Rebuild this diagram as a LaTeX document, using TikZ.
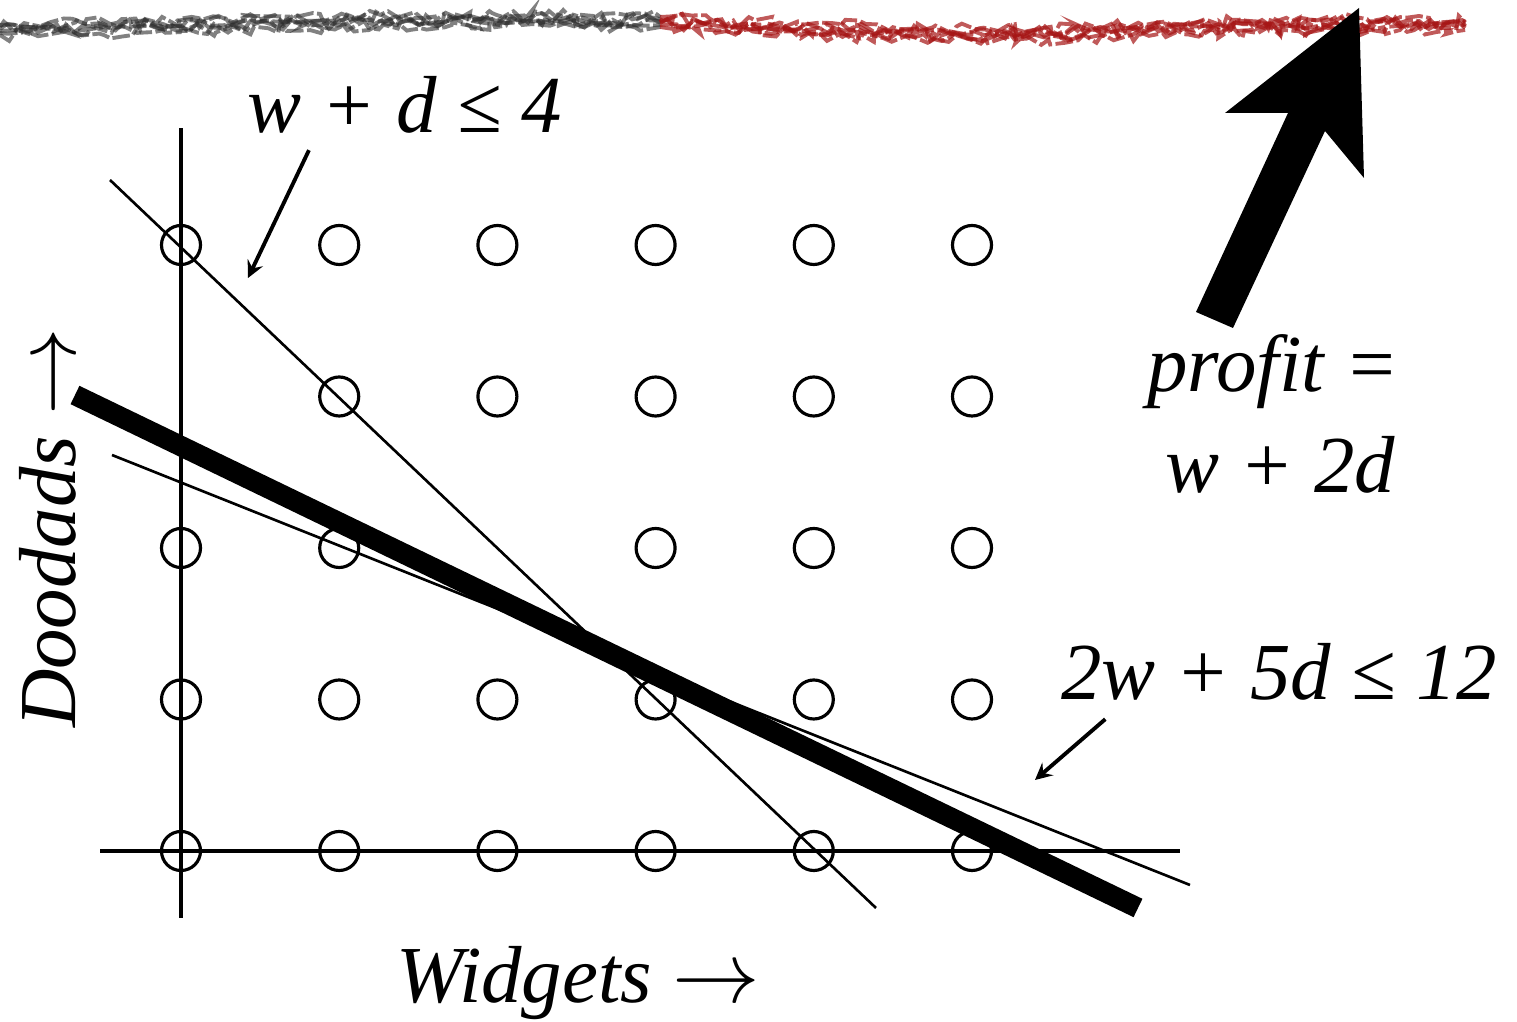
\documentclass[tikz,border=0pt]{standalone}
\usepackage{fontspec}
\setmainfont{Liberation Serif}
\usetikzlibrary{positioning,calc,arrows,decorations.pathmorphing}
\definecolor{chalkred}{RGB}{165,20,20}
\definecolor{chalkgray}{RGB}{45,45,45}

\begin{document}
\begin{tikzpicture}[x=0.01cm, y=-0.01cm,
    dot/.style={draw, circle, line width=0.9pt, minimum size=0.39cm, inner sep=0pt},
    axis/.style={line width=0.9pt},
    bound/.style={line width=0.75pt},
    lbl/.style={font=\fontsize{23}{27}\selectfont\itshape, inner sep=0pt},
    ptr/.style={-stealth, line width=1.1pt},
    chalk/.style={line width=1.1pt, decorate, decoration={random steps, segment length=2.5pt, amplitude=1.8pt}}
]
    \useasboundingbox (0,0) rectangle (1517,1022);

    % torn chalk line along the top
    \pgfmathsetseed{11}
    \foreach \o in {-5,-3,-1,1,3,5}
        \draw[chalk, chalkgray, opacity=0.6, dash pattern=on 5pt off 1pt] (0,30+\o) .. controls (250,24+\o) and (480,16+\o) .. (660,22+\o);
    \foreach \o in {-5,-3,-1,1,3,5}
        \draw[chalk, chalkred, opacity=0.7, dash pattern=on 5pt off 1pt] (660,22+\o) .. controls (860,32+\o) and (980,38+\o) .. (1100,32+\o) .. controls (1250,25+\o) and (1380,24+\o) .. (1465,25+\o);

    % axes
    \coordinate (xl) at (100,851);  \coordinate (xr) at (1180,851);
    \coordinate (yb) at (181,918);  \coordinate (yt) at (181,128);
    \draw[axis] (xl) -- (xr);
    \draw[axis] (yb) -- (yt);

    % integer points
    \foreach \i in {0,...,5}{
        \foreach \j in {0,...,4}{
            \pgfmathtruncatemacro\hole{(\i==0 && \j==3) || (\i==2 && \j==2)}
            \ifnum\hole=0
                \node[dot] (c\i\j) at ({181+158.2*\i},{851-151.5*\j}) {};
            \fi
        }
    }

    % constraints and objective
    \coordinate (a1) at (110,180);  \coordinate (a2) at (876,908);
    \coordinate (b1) at (112,455);  \coordinate (b2) at (1190,885);
    \coordinate (t1) at (75,395);   \coordinate (t2) at (1138,908);
    \draw[bound] (a1) -- (a2);
    \draw[bound] (b1) -- (b2);
    \draw[line width=5.8pt] (t1) -- (t2);

    % labels
    \node[lbl] (cone) at (405,105) {w + d ≤ 4};
    \node[lbl] (ctwo) at (1279,672) {2w + 5d ≤ 12};
    \node[lbl] (prof) at (1273,372) {profit =};
    \node[lbl] (obj) at (1280,465) {w + 2d};
    \node[lbl] (wid) at (578,983) {Widgets $\rightarrow$};
    \node[lbl, rotate=90] (dood) at (48,528) {Doodads $\rightarrow$};

    \coordinate (pone) at (248,278);
    \coordinate (ptwo) at (1035,780);
    \draw[ptr] ([shift={(62,16)}]cone.south west) -- (pone);
    \draw[ptr] ([shift={(45,18)}]ctwo.south west) -- (ptwo);

    % direction of improvement
    \fill (1359,8) -- (1364,178) -- (1325,131) -- (1233,328) -- (1196,312)
        -- (1288,113) -- (1225,113) -- cycle;
\end{tikzpicture}
\end{document}
